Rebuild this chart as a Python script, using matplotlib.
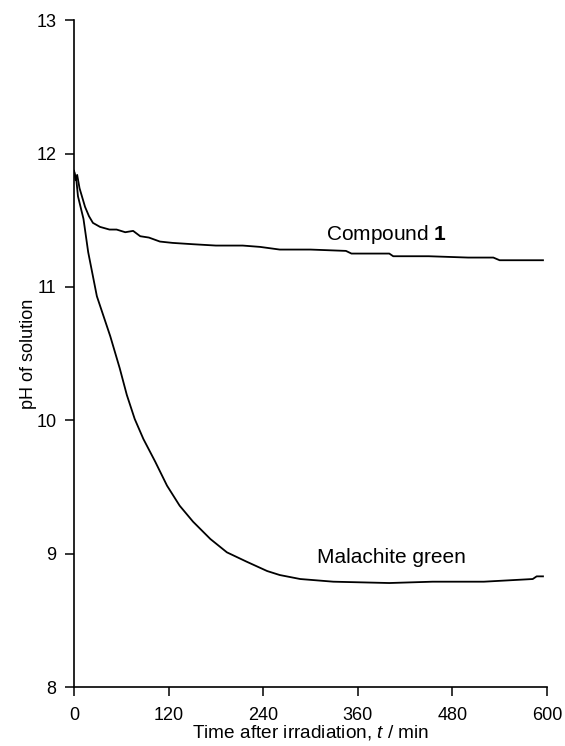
import matplotlib.pyplot as plt

plt.rcParams["font.family"] = ["Liberation Sans", "DejaVu Sans"]
plt.rcParams["mathtext.fontset"] = "custom"
plt.rcParams["mathtext.rm"] = "Liberation Sans"
plt.rcParams["mathtext.it"] = "Liberation Sans:italic"
plt.rcParams["mathtext.bf"] = "Liberation Sans:bold"

# Compound 1
t_comp = [0, 2, 4, 7, 10, 14, 19, 24, 33, 45, 54, 65, 75, 84, 95, 109, 125, 151,
          180, 214, 236, 261, 300, 345, 352, 400, 405, 450, 500, 532, 540, 570, 595]
ph_comp = [11.87, 11.80, 11.84, 11.74, 11.68, 11.60, 11.53, 11.48, 11.45, 11.43,
           11.43, 11.41, 11.42, 11.38, 11.37, 11.34, 11.33, 11.32, 11.31, 11.31,
           11.30, 11.28, 11.28, 11.27, 11.25, 11.25, 11.23, 11.23, 11.22, 11.22,
           11.20, 11.20, 11.20]

# Malachite green
t_mal = [0, 3, 5, 12, 18, 29, 46, 58, 67, 77, 88, 103, 118, 134, 151, 173, 194,
         219, 245, 261, 287, 329, 400, 455, 520, 582, 587, 595]
ph_mal = [11.87, 11.80, 11.68, 11.51, 11.26, 10.93, 10.63, 10.39, 10.19, 10.01,
          9.86, 9.69, 9.51, 9.36, 9.24, 9.11, 9.01, 8.94, 8.87, 8.84, 8.81, 8.79,
          8.78, 8.79, 8.79, 8.81, 8.83, 8.83]

xticks = [0, 120, 240, 360, 480, 600]
yticks = [8, 9, 10, 11, 12, 13]

fig = plt.figure(figsize=(5.65, 7.46), dpi=100)
ax = fig.add_axes([0.131, 0.079, 0.837, 0.894])

ax.plot(t_comp, ph_comp, color="black", linewidth=1.3)
ax.plot(t_mal, ph_mal, color="black", linewidth=1.3)

ax.text(397, 11.39, r"Compound $\mathbf{1}$", fontsize=15, ha="center", va="center")
ax.text(403, 8.97, "Malachite green", fontsize=15, ha="center", va="center")

ax.set_xlim(0, 600)
ax.set_ylim(8, 13)
ax.set_xticks(xticks)
ax.set_yticks(yticks)
ax.tick_params(direction="out", length=6.5, width=1.1, labelsize=13, pad=6)
ax.tick_params(axis="x", pad=8)

for side in ["top", "right"]:
    ax.spines[side].set_visible(False)
for side in ["left", "bottom"]:
    ax.spines[side].set_linewidth(1.2)

ax.set_xlabel(r"Time after irradiation, $t$ / min", fontsize=13.7, labelpad=-1)
ax.set_ylabel("pH of solution", fontsize=13, labelpad=0)

fig.savefig("out.png", dpi=100)
